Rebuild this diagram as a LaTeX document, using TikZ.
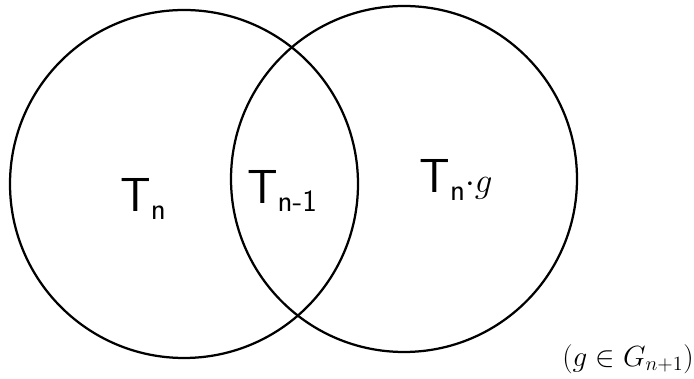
\documentclass[tikz,border=0pt]{standalone}
\usepackage{amssymb}
\tikzset{
  setline/.style={line width=1.6pt},
  setlabel/.style={font=\sffamily\fontsize{34}{36}\selectfont},
}
\newcommand{\subtxt}[1]{\raisebox{-0.15em}{\fontsize{22}{22}\selectfont #1}}
\begin{document}
\begin{tikzpicture}[scale=1.0]
  \useasboundingbox (0,0) rectangle (17.35,9.475);
  % the two sets
  \draw[setline] (4.6,4.875) circle[radius=4.35];
  \draw[setline] (10.1,5.0) circle[radius=4.325];
  % labels
  \node[setlabel] (tn) at (3.575,4.5) {T\subtxt{n}};
  \node[setlabel] (tnm) at (7.05,4.7) {T\subtxt{n-1}};
  \node[setlabel] (tng) at (11.4,4.975) {T\subtxt{n}$\cdot g$};
  \node[anchor=east,inner sep=0pt,font=\fontsize{22.5}{24}\selectfont] (cond) at (17.35,0.5) {$(g\in G_{n+1})$};
\end{tikzpicture}
\end{document}
